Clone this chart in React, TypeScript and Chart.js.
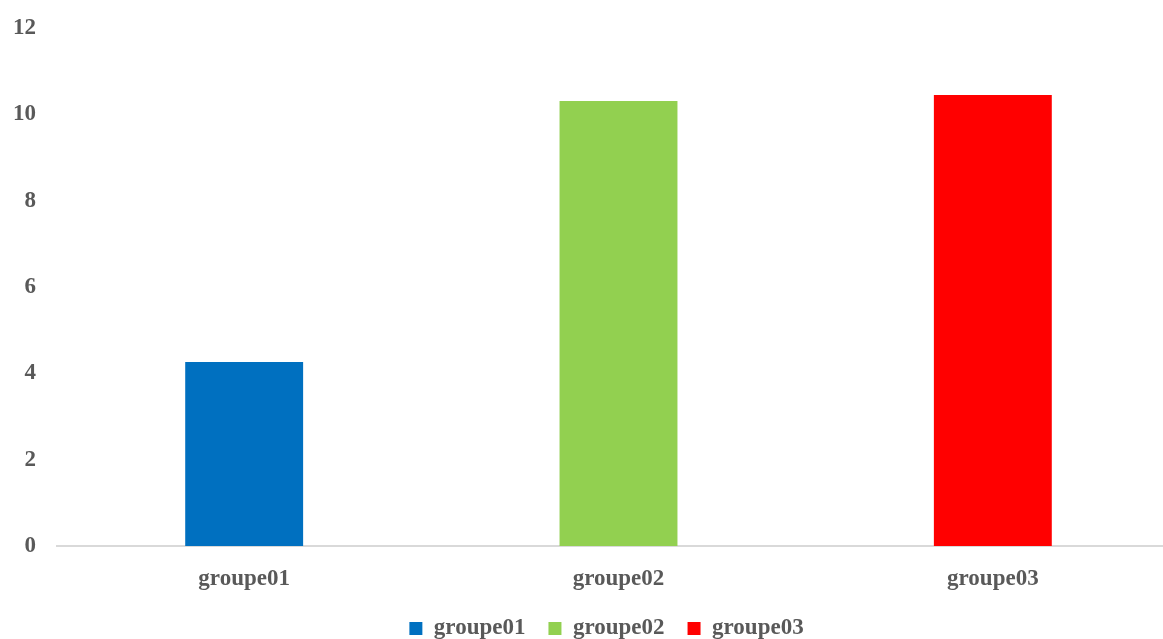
import React, { useEffect, useRef } from "react";
import { Chart, registerables } from "chart.js";

Chart.register(...registerables);

const categories = ["groupe01", "groupe02", "groupe03"];
const values = [4.26, 10.31, 10.45];
const barColors = ["#0070C0", "#92D050", "#FF0000"];
const yTicks = [0, 2, 4, 6, 8, 10, 12];

const FONT = { family: "'Liberation Serif', 'Times New Roman', serif", size: 23, weight: "bold" as const };
const TEXT = "#595959";

export default function App() {
  const ref = useRef<HTMLCanvasElement | null>(null);
  useEffect(() => {
    if (!ref.current) return;
    const chart = new Chart(ref.current, {
      type: "bar",
      data: {
        labels: categories,
        datasets: [
          {
            label: "values",
            data: values,
            backgroundColor: barColors,
            borderWidth: 0,
            categoryPercentage: 1,
            barPercentage: 0.315,
          },
        ],
      },
      options: {
        responsive: false,
        animation: false,
        layout: { padding: { top: 28, left: 0, right: 0, bottom: 0 } },
        plugins: {
          tooltip: { enabled: false },
          legend: {
            position: "bottom",
            labels: {
              font: FONT,
              color: TEXT,
              boxWidth: 13,
              boxHeight: 13,
              padding: 23,
              generateLabels: (c: any) =>
                (c.data.labels as string[]).map((t, i) => ({
                  text: t,
                  fillStyle: (c.data.datasets[0].backgroundColor as string[])[i],
                  strokeStyle: (c.data.datasets[0].backgroundColor as string[])[i],
                  lineWidth: 0,
                  hidden: false,
                  index: i,
                  fontColor: TEXT,
                })),
            },
          },
        },
        scales: {
          x: {
            grid: { display: false, drawTicks: false },
            border: { display: true, color: "#d9d9d9", width: 2 },
            ticks: { font: FONT, color: TEXT, padding: 19 },
            afterFit: (s: any) => {
              s.height = 48;
            },
          },
          y: {
            min: 0,
            max: 12,
            grid: { display: false, drawTicks: false },
            border: { display: false },
            afterBuildTicks: (s: any) => {
              s.ticks = yTicks.map((v) => ({ value: v }));
            },
            ticks: { font: FONT, color: TEXT, padding: 21 },
            afterFit: (s: any) => {
              s.width = 57;
              s.paddingTop = 0;
              s.paddingBottom = 0;
            },
          },
          yRight: {
            position: "right",
            display: true,
            grid: { display: false, drawTicks: false },
            border: { display: false },
            ticks: { display: false },
            afterFit: (s: any) => {
              s.width = 33;
              s.paddingTop = 0;
              s.paddingBottom = 0;
            },
          },
        },
      },
    });
    return () => chart.destroy();
  }, []);
  return (
    <div style={{ position: "absolute", left: 0, top: 0, width: 1163, height: 639, overflow: "hidden", background: "#fff" }}>
      <canvas ref={ref} width={1213} height={650} style={{ width: 1213, height: 650, display: "block" }} />
    </div>
  );
}
